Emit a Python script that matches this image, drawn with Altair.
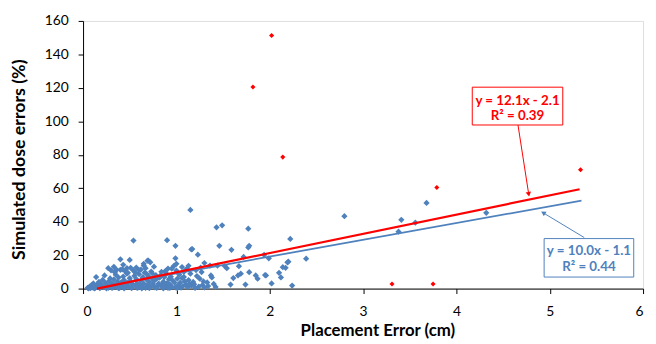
import altair as alt
import pandas as pd

# Blue series (main data)
blue_x = [1.15, 1.43, 1.49, 1.77, 0.54, 0.90, 0.99, 1.16, 1.23, 1.46, 1.59, 1.78, 1.77, 0.40, 0.50,
          0.70, 0.72, 0.99, 1.30, 1.99, 1.72, 1.94, 2.22, 2.39, 2.80, 3.41, 3.68, 3.56, 3.38, 4.32,
          2.19, 2.20, 2.17, 2.14, 2.10, 2.12, 2.02, 2.24, 1.96, 1.36, 1.44, 1.52, 1.54, 1.67, 1.78,
          1.85, 1.87, 1.95, 1.58, 1.74, 1.61, 1.66, 1.69, 1.37, 1.38, 1.27, 1.25, 1.29, 1.11, 1.15,
          1.01, 1.04, 0.83, 0.87, 0.79, 0.81, 0.27, 0.36, 0.40, 0.47, 0.65, 0.67, 0.97, 1.00, 0.14,
          0.23, 0.51, 0.54, 1.17, 0.69, 0.65, 1.00,
          0.05, 0.07, 0.08, 0.09, 0.10, 0.11, 0.12, 0.13, 0.15, 0.16, 0.17, 0.18, 0.19, 0.20, 0.21,
          0.22, 0.24, 0.25, 0.26, 0.27, 0.28, 0.29, 0.30, 0.31, 0.32, 0.33, 0.34, 0.35, 0.36, 0.37,
          0.38, 0.39, 0.40, 0.41, 0.42, 0.43, 0.44, 0.45, 0.46, 0.47, 0.48, 0.49, 0.50, 0.51, 0.52,
          0.53, 0.55, 0.56, 0.57, 0.58, 0.59, 0.60, 0.61, 0.62, 0.63, 0.64, 0.65, 0.66, 0.67, 0.68,
          0.69, 0.70, 0.71, 0.72, 0.73, 0.74, 0.75, 0.76, 0.77, 0.78, 0.80, 0.82, 0.84, 0.85, 0.86,
          0.88, 0.89, 0.90, 0.91, 0.92, 0.93, 0.94, 0.95, 0.96, 0.98, 0.99, 1.02, 1.03, 1.05, 1.06,
          1.07, 1.08, 1.09, 1.10, 1.12, 1.13, 1.14, 1.16, 1.18, 1.19, 1.20, 1.22, 1.24, 1.28, 1.30,
          1.33, 1.34, 1.40, 1.42, 0.06, 0.12, 0.18, 0.25, 0.31, 0.38, 0.44, 0.52, 0.58, 0.63, 0.71,
          0.79, 0.86, 0.93, 1.01, 0.34, 0.45, 0.56, 0.30, 0.42, 0.60, 0.74, 0.88,
          0.33, 0.43, 0.57, 0.62, 0.76, 0.84, 0.95, 1.06, 1.13, 1.21, 0.48, 0.68, 0.91, 1.08, 1.26]
blue_y = [47.0, 36.6, 37.8, 35.8, 28.7, 28.9, 25.6, 23.4, 20.3, 25.6, 23.2, 25.6, 24.6, 17.5, 17.1,
          16.7, 15.7, 18.1, 15.3, 18.1, 18.9, 20.1, 29.7, 17.9, 43.3, 41.1, 51.2, 39.4, 34.0, 45.3,
          15.7, 16.1, 12.4, 12.8, 9.4, 6.7, 3.1, 1.8, 7.9, 13.8, 13.8, 13.4, 12.2, 13.4, 9.8,
          7.9, 5.9, 8.1, 2.4, 2.4, 6.3, 7.9, 8.9, 7.9, 6.7, 9.9, 5.9, 4.3, 11.8, 8.9,
          5.9, 3.5, 7.9, 6.9, 5.9, 3.0, 12.2, 11.2, 11.2, 12.2, 13.8, 12.2, 13.4, 14.8, 6.9,
          7.9, 12.4, 10.8, 23.6, 16.7, 14.8, 10.8,
          0.5, 1.2, 0.3, 2.0, 0.8, 3.1, 1.5, 0.4, 2.5, 1.0, 4.0, 0.6, 2.8, 1.7, 5.2,
          0.9, 3.4, 1.3, 2.2, 0.5, 4.6, 6.1, 1.8, 3.0, 0.7, 5.5, 2.4, 8.3, 1.1, 4.2,
          6.6, 0.4, 2.9, 3.8, 1.5, 7.2, 5.0, 0.9, 2.1, 9.0, 3.5, 1.2, 6.2, 4.4, 0.6,
          2.6, 7.6, 1.9, 5.7, 3.2, 0.8, 8.6, 2.3, 4.9, 1.4, 6.8, 3.0, 9.5, 0.5, 5.3,
          2.0, 7.4, 3.9, 1.1, 10.2, 6.0, 2.7, 4.5, 0.7, 8.0, 1.6, 6.5, 2.2, 0.9, 4.1,
          1.8, 9.1, 3.3, 0.5, 5.6, 2.5, 7.1, 1.2, 4.8, 3.6, 0.8, 2.0, 8.4, 0.6, 6.3,
          1.5, 10.0, 4.3, 2.4, 0.9, 5.1, 3.0, 1.7, 4.0, 2.6, 0.4, 7.5, 1.2, 2.1, 0.7,
          3.7, 1.5, 2.8, 1.0, 0.2, 0.1, 0.3, 0.2, 0.4, 0.3, 0.2, 0.3, 0.4, 0.2, 0.3,
          0.5, 0.2, 0.4, 0.3, 9.8, 10.5, 9.6, 10.9, 11.5, 11.0, 9.2, 10.4,
          13.0, 14.2, 12.6, 11.4, 13.1, 10.0, 11.9, 12.9, 13.6, 11.1, 9.4, 8.8, 12.0, 7.0, 12.5]

# Red series (outliers)
red_x = [2.02, 1.82, 2.14, 3.79, 5.33, 3.31, 3.75]
red_y = [151.3, 120.5, 78.6, 60.4, 71.1, 2.8, 2.8]

# Trend lines as drawn (end points) and their labels
fit_series = ["blue", "red"]
fit_x0 = [0.09, 0.15]
fit_y0 = [0.0, 0.0]
fit_x1 = [5.34, 5.32]
fit_y1 = [52.6, 59.4]
fit_color = ["#4F81BD", "#FF0000"]
fit_width = [1.8, 2.2]

# Annotation boxes (data coordinates)
box_x = [4.94, 4.17]
box_x2 = [5.90, 5.14]
box_y = [29.9, 120.4]
box_y2 = [6.9, 97.8]
label_line1 = ["y = 10.0x - 1.1", "y = 12.1x - 2.1"]
label_line2 = ["R² = 0.44", "R² = 0.39"]
label_x = [5.42, 4.655]
label_y1 = [22.2, 112.4]
label_y2 = [13.0, 103.0]
arrow_x = [5.37, 4.66]
arrow_y = [30.5, 97.8]
arrow_tx = [4.93, 4.775]
arrow_ty = [45.3, 56.4]
arrow_angle = [301, 170]

x_ticks = [0, 1, 2, 3, 4, 5, 6]
y_ticks = [0, 20, 40, 60, 80, 100, 120, 140, 160]

FONT = "Lato"

blue_df = pd.DataFrame({"x": blue_x, "y": blue_y})
red_df = pd.DataFrame({"x": red_x, "y": red_y})

line_rows = []
for s, xa, ya, xb, yb, c, w in zip(fit_series, fit_x0, fit_y0, fit_x1, fit_y1, fit_color, fit_width):
    line_rows.append({"series": s, "x": xa, "y": ya, "color": c, "w": w})
    line_rows.append({"series": s, "x": xb, "y": yb, "color": c, "w": w})
line_df = pd.DataFrame(line_rows)

ann_df = pd.DataFrame({
    "series": fit_series, "color": fit_color,
    "bx": box_x, "bx2": box_x2, "by": box_y, "by2": box_y2,
    "l1": label_line1, "l2": label_line2, "lx": label_x, "ly1": label_y1, "ly2": label_y2,
    "ax": arrow_x, "ay": arrow_y, "atx": arrow_tx, "aty": arrow_ty, "ang": arrow_angle,
})

xs = alt.Scale(domain=[0, 6], nice=False, zero=False)
ys = alt.Scale(domain=[0, 160], nice=False, zero=False)

x_axis = alt.Axis(values=x_ticks, format="d", labelOverlap=False, tickCount=7,
                  title="Placement Error (cm)", grid=False,
                  domainColor="#000", tickColor="#000", tickSize=5, labelFontSize=14,
                  labelColor="#000", titleFontSize=17, titleFontWeight="bold", titleColor="#000",
                  labelFont=FONT, titleFont=FONT, labelPadding=11,
                  titleX=298, titleY=43, titleBaseline="middle", titleAlign="center")
y_axis = alt.Axis(values=y_ticks, format="d", labelOverlap=False, tickCount=9,
                  title="Simulated dose errors (%)", grid=False,
                  domainColor="#000", tickColor="#000", tickSize=5, labelFontSize=14,
                  labelColor="#000", titleFontSize=18, titleFontWeight="bold", titleColor="#000",
                  labelFont=FONT, titleFont=FONT, labelPadding=10,
                  titleX=-64, titleY=140, titleBaseline="middle", titleAlign="center", titleAngle=-90)


def X(field):
    return alt.X(field, type="quantitative", scale=xs, axis=x_axis)


def Y(field):
    return alt.Y(field, type="quantitative", scale=ys, axis=y_axis)


blue_pts = alt.Chart(blue_df).mark_point(shape="diamond", filled=True, size=40, opacity=1,
                                         color="#4F81BD").encode(x=X("x"), y=Y("y"))
red_pts = alt.Chart(red_df).mark_point(shape="diamond", filled=True, size=26, opacity=1,
                                       color="#FF0000").encode(x=X("x"), y=Y("y"))

lines = alt.Chart(line_df).mark_line().encode(
    x=X("x"), y=Y("y"),
    detail="series:N",
    color=alt.Color("color:N", scale=None),
    strokeWidth=alt.StrokeWidth("w:Q", scale=None),
)

boxes = alt.Chart(ann_df).mark_rect(fill="white", strokeWidth=1).encode(
    x=X("bx"), x2="bx2:Q", y=Y("by"), y2="by2:Q",
    stroke=alt.Stroke("color:N", scale=None),
)
t1 = alt.Chart(ann_df).mark_text(font=FONT, fontSize=13.5, fontWeight="bold").encode(
    x=X("lx"), y=Y("ly1"), text="l1:N", color=alt.Color("color:N", scale=None))
t2 = alt.Chart(ann_df).mark_text(font=FONT, fontSize=13.5, fontWeight="bold").encode(
    x=X("lx"), y=Y("ly2"), text="l2:N", color=alt.Color("color:N", scale=None))
arrows = alt.Chart(ann_df).mark_rule(strokeWidth=1).encode(
    x=X("ax"), y=Y("ay"), x2="atx:Q", y2="aty:Q",
    color=alt.Color("color:N", scale=None))
heads = alt.Chart(ann_df).mark_point(shape="triangle-up", filled=True, size=30, opacity=1).encode(
    x=X("atx"), y=Y("aty"),
    angle=alt.Angle("ang:Q", scale=None),
    color=alt.Color("color:N", scale=None))

chart = alt.layer(blue_pts, red_pts, lines, arrows, heads, boxes, t1, t2).properties(
    width=567, height=271,
    autosize=alt.AutoSizeParams(type="none"),
    padding={"left": 76, "top": 11, "right": 5, "bottom": 54},
).configure_view(stroke=None).configure(background="white")

chart.save("out.html", embed_options={"renderer": "svg", "actions": False})
